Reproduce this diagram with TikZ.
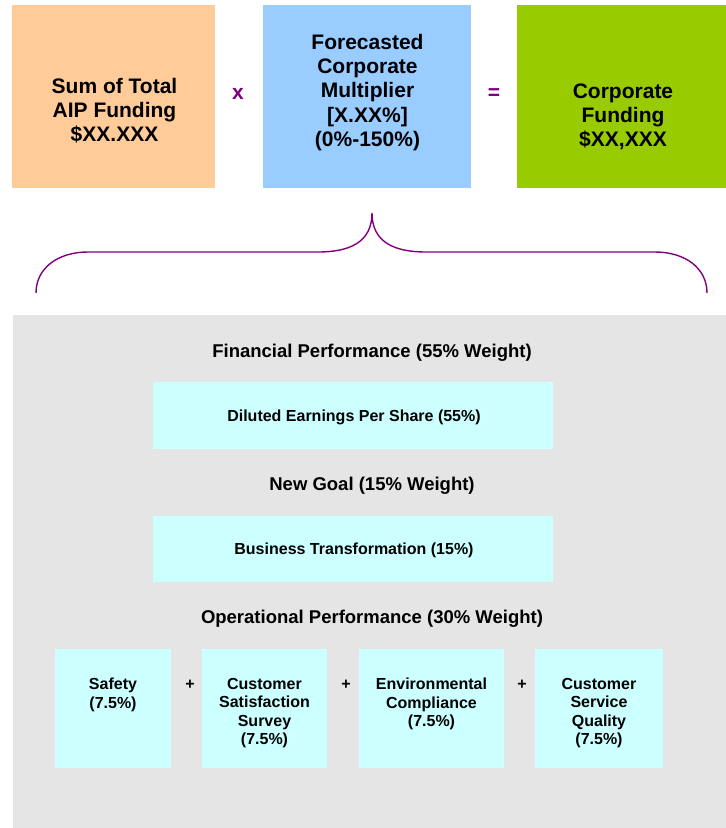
\documentclass[tikz,border=0pt]{standalone}
\usepackage{fontspec}
\setmainfont{Liberation Sans}
\definecolor{orangebox}{HTML}{FFCC99}
\definecolor{bluebox}{HTML}{99CCFF}
\definecolor{greenbox}{HTML}{99CC00}
\definecolor{panelgray}{HTML}{E5E5E5}
\definecolor{cyanbox}{HTML}{CCFFFF}
\definecolor{bracepurple}{HTML}{800080}
\tikzset{
  plainbox/.style={draw=none, inner sep=0pt, outer sep=0pt},
  bigtext/.style={inner sep=0pt, align=center, font=\fontsize{21}{24.2}\selectfont\bfseries},
  optext/.style={inner sep=0pt, text=bracepurple, font=\fontsize{21}{24}\selectfont\bfseries},
  headtext/.style={inner sep=0pt, font=\fontsize{18.5}{22}\selectfont\bfseries},
  smalltext/.style={inner sep=0pt, align=center, font=\fontsize{16}{18.4}\selectfont\bfseries},
  boxtext/.style={inner sep=0pt, font=\fontsize{16}{18}\selectfont\bfseries},
  plustext/.style={inner sep=0pt, font=\fontsize{16}{18}\selectfont\bfseries},
  bracestyle/.style={draw=bracepurple, line width=1.4pt}
}
\begin{document}
\begin{tikzpicture}[x=1pt,y=-1pt]
\useasboundingbox (0,0) rectangle (726,828);
% top boxes
\node[plainbox, fill=orangebox, minimum width=203pt, minimum height=183pt] (sum) at (113.5,96.5) {};
\node[plainbox, fill=bluebox, minimum width=208pt, minimum height=183pt] (mult) at (367,96.5) {};
\node[plainbox, fill=greenbox, minimum width=209pt, minimum height=183pt] (fund) at (621.5,96.5) {};
\node[bigtext] (sumtxt) at (114.5,110.5) {Sum of Total\\AIP Funding\\\$XX.XXX};
\node[bigtext] (multtxt) at (367.5,92.5) {Forecasted\\Corporate\\Multiplier\\{[}X.XX\%{]}\\(0\%-150\%)};
\node[bigtext] (fundtxt) at (623,116.5) {Corporate\\Funding\\\$XX,XXX};
\node[optext] (times) at (238,94) {x};
\node[optext] (equals) at (494,94) {=};
% brace
\coordinate (bl) at (36,293);
\coordinate (btip) at (372,213);
\coordinate (br) at (707,293);
\draw[bracestyle] (bl) .. controls (36,268) and (58,252) .. (88,252) -- (318,252)
  .. controls (350,252) and (372,242) .. (btip)
  .. controls (372,242) and (394,252) .. (426,252) -- (655,252)
  .. controls (685,252) and (707,268) .. (br);
% panel
\node[plainbox, fill=panelgray, minimum width=713pt, minimum height=513pt] (panel) at (369.5,571.5) {};
\node[headtext] (fin) at (372,353) {Financial Performance (55\% Weight)};
\node[plainbox, fill=cyanbox, minimum width=400pt, minimum height=67pt] (eps) at (353,415.5) {};
\node[boxtext] (epstxt) at (354,417) {Diluted Earnings Per Share (55\%)};
\node[headtext] (goal) at (372,486) {New Goal (15\% Weight)};
\node[plainbox, fill=cyanbox, minimum width=400pt, minimum height=66pt] (bt) at (353,549) {};
\node[boxtext] (bttxt) at (354,550.5) {Business Transformation (15\%)};
\node[headtext] (ops) at (372,619) {Operational Performance (30\% Weight)};
% bottom boxes
\node[plainbox, fill=cyanbox, minimum width=116pt, minimum height=119pt] (safety) at (113,708.5) {};
\node[plainbox, fill=cyanbox, minimum width=125pt, minimum height=119pt] (css) at (264.5,708.5) {};
\node[plainbox, fill=cyanbox, minimum width=145pt, minimum height=119pt] (env) at (431.5,708.5) {};
\node[plainbox, fill=cyanbox, minimum width=128pt, minimum height=119pt] (csq) at (599,708.5) {};
\node[smalltext, anchor=north] (safetytxt) at ([yshift=-29pt]safety.north) {Safety\\(7.5\%)};
\node[smalltext, anchor=north] (csstxt) at ([yshift=-29pt]css.north) {Customer\\Satisfaction\\Survey\\(7.5\%)};
\node[smalltext, anchor=north] (envtxt) at ([yshift=-29pt]env.north) {Environmental\\Compliance\\(7.5\%)};
\node[smalltext, anchor=north] (csqtxt) at ([yshift=-29pt]csq.north) {Customer\\Service\\Quality\\(7.5\%)};
\node[plustext] (p1) at (190,685) {+};
\node[plustext] (p2) at (346,685) {+};
\node[plustext] (p3) at (522,685) {+};
\end{tikzpicture}
\end{document}
